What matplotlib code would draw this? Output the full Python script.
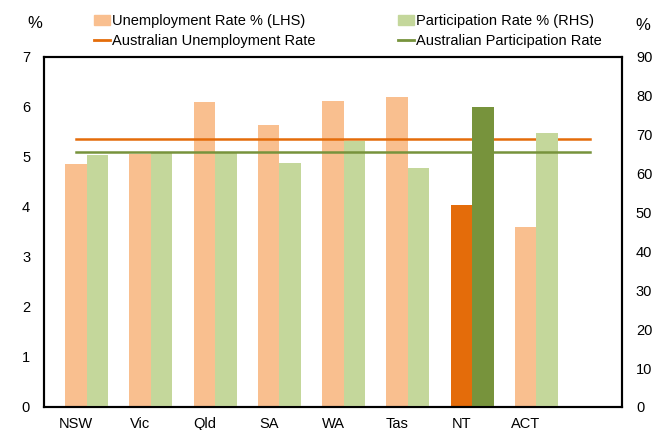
import matplotlib.pyplot as plt
import numpy as np
from matplotlib.patches import Patch
from matplotlib.lines import Line2D

plt.rcParams['font.family'] = ['Liberation Sans', 'DejaVu Sans']

states = ["NSW", "Vic", "Qld", "SA", "WA", "Tas", "NT", "ACT", ""]
unemp = [4.87, 5.07, 6.11, 5.64, 6.13, 6.2, 4.04, 3.6]
partic = [64.8, 65.6, 65.7, 62.7, 68.4, 61.4, 77.1, 70.5]
aus_unemp = 5.36
aus_partic = 65.6

light_or = "#F9BF8F"
light_gr = "#C4D79B"
dark_or = "#E46C0A"
dark_gr = "#77933C"

fig = plt.figure(figsize=(6.64, 4.30), dpi=100)
ax = fig.add_axes([44 / 664, 1 - 407 / 430, 578 / 664, 350 / 430])
ax2 = ax.twinx()

x = np.arange(len(unemp))
w = 0.335
or_cols = [dark_or if s == "NT" else light_or for s in states[:len(unemp)]]
gr_cols = [dark_gr if s == "NT" else light_gr for s in states[:len(unemp)]]

ax.bar(x - 0.17 + w / 2, unemp, width=w, color=or_cols, zorder=2)
ax2.bar(x + 0.165 + w / 2, partic, width=w, color=gr_cols, zorder=2)

ax.plot([0, len(states) - 1], [aus_unemp, aus_unemp], color=dark_or, lw=1.8, zorder=3)
ax2.plot([0, len(states) - 1], [aus_partic, aus_partic], color=dark_gr, lw=1.8, zorder=3)

ax.set_xlim(-0.5, len(states) - 0.5)
ax.set_ylim(0, 7)
ax2.set_ylim(0, 90)
ax.set_yticks(range(0, 8))
ax2.set_yticks(range(0, 91, 10))
ax.set_xticks(x)
ax.set_xticklabels(states[:len(unemp)])

for a in (ax, ax2):
    a.tick_params(length=0, labelsize=10.5)
    for sp in a.spines.values():
        sp.set_linewidth(1.5)
        sp.set_color("black")
ax.tick_params(axis='y', pad=10)
ax2.tick_params(axis='y', pad=10)
ax.tick_params(axis='x', pad=7)

fig.text(35 / 664, 1 - 23 / 430, "%", fontsize=12, ha='center', va='center')
fig.text(643 / 664, 1 - 25 / 430, "%", fontsize=12, ha='center', va='center')

handles = [Patch(color=light_or), Line2D([], [], color=dark_or, lw=2),
           Patch(color=light_gr), Line2D([], [], color=dark_gr, lw=2)]
labels = ["Unemployment Rate % (LHS)", "Australian Unemployment Rate",
          "Participation Rate % (RHS)", "Australian Participation Rate"]
fig.legend(handles, labels, ncol=2, loc='upper left',
           bbox_to_anchor=(84 / 664, 1 - 4 / 430), frameon=False, fontsize=10.5,
           handlelength=1.1, handletextpad=0.1, columnspacing=5.7,
           labelspacing=0.4, borderaxespad=0.3)

fig.savefig("out.png", dpi=100)
